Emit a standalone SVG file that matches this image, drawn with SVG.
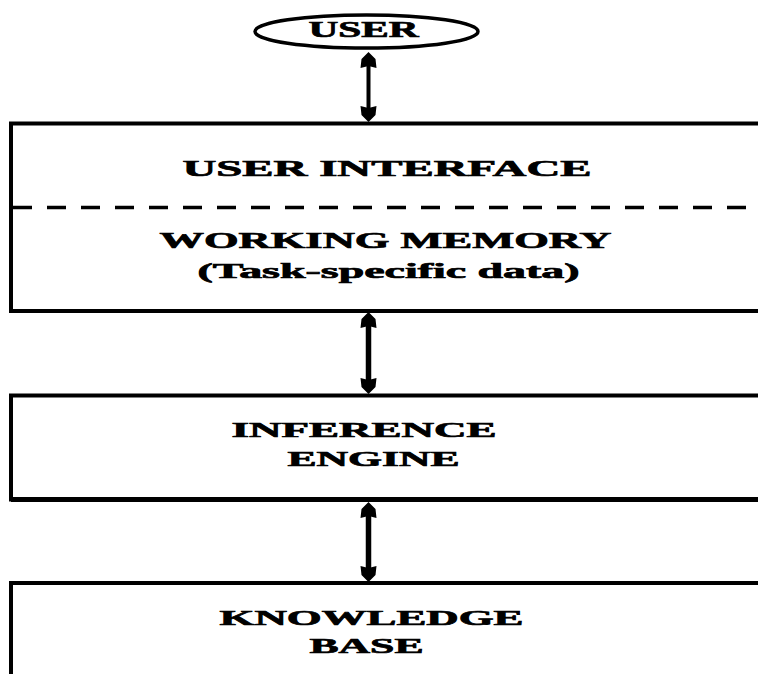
<svg xmlns="http://www.w3.org/2000/svg" width="758" height="674" viewBox="0 0 758 674">
  <style>
    .edge { fill: none; stroke: #000; stroke-width: 4; }
    .lbl { font-family: "Liberation Serif", "Times New Roman", serif; font-weight: bold; fill: #000; stroke: #000; stroke-width: 0.7; }
    .shaft { stroke: #000; fill: none; }
    .head { fill: #000; }
  </style>
  <defs>
    <polygon id="ahUp" points="0,0 7,7 8,16 0,14 -8,16 -7,7"/>
  </defs>
  <rect width="758" height="674" fill="#fff"/>

  <g id="user">
    <ellipse cx="366.5" cy="31.5" rx="111.5" ry="16.5" fill="#fff" stroke="#000" stroke-width="3.5"/>
    <text class="lbl" x="308.5" y="37" font-size="23" textLength="110" lengthAdjust="spacingAndGlyphs">USER</text>
  </g>

  <g id="ui-wm">
    <path class="edge" d="M758,123.5 H11 V311 H758"/>
    <line x1="13" y1="207.5" x2="758" y2="207.5" stroke="#000" stroke-width="3.5" stroke-dasharray="19 15"/>
    <text class="lbl" x="182.5" y="176" font-size="24" textLength="409" lengthAdjust="spacingAndGlyphs">USER INTERFACE</text>
    <text class="lbl" x="159.5" y="248" font-size="23" textLength="452" lengthAdjust="spacingAndGlyphs">WORKING MEMORY</text>
    <text class="lbl" x="197.5" y="278" font-size="21.5" textLength="382" lengthAdjust="spacingAndGlyphs">(Task-specific data)</text>
  </g>

  <g id="inference">
    <path class="edge" d="M758,395.5 H11 V499.5 H758"/>
    <line x1="11" y1="499.5" x2="758" y2="499.5" stroke="#000" stroke-width="5"/>
    <text class="lbl" x="231.5" y="436.5" font-size="21.5" textLength="265" lengthAdjust="spacingAndGlyphs">INFERENCE</text>
    <text class="lbl" x="287.5" y="465.5" font-size="21.5" textLength="172" lengthAdjust="spacingAndGlyphs">ENGINE</text>
  </g>

  <g id="knowledge">
    <path class="edge" d="M758,583 H11 V674"/>
    <text class="lbl" x="219.5" y="625" font-size="22" textLength="304" lengthAdjust="spacingAndGlyphs">KNOWLEDGE</text>
    <text class="lbl" x="309.5" y="653" font-size="21.5" textLength="114" lengthAdjust="spacingAndGlyphs">BASE</text>
  </g>

  <g id="connectors">
    <line class="shaft" x1="368.5" y1="60" x2="368.5" y2="114" stroke-width="4"/>
    <use href="#ahUp" class="head" transform="translate(368.5,52)"/>
    <use href="#ahUp" class="head" transform="translate(368.5,122) rotate(180)"/>

    <line class="shaft" x1="368.5" y1="320" x2="368.5" y2="386" stroke-width="5.5"/>
    <use href="#ahUp" class="head" transform="translate(368.5,312)"/>
    <use href="#ahUp" class="head" transform="translate(368.5,394) rotate(180)"/>

    <line class="shaft" x1="368.5" y1="510" x2="368.5" y2="574" stroke-width="5.5"/>
    <use href="#ahUp" class="head" transform="translate(368.5,502)"/>
    <use href="#ahUp" class="head" transform="translate(368.5,582) rotate(180)"/>
  </g>
</svg>
